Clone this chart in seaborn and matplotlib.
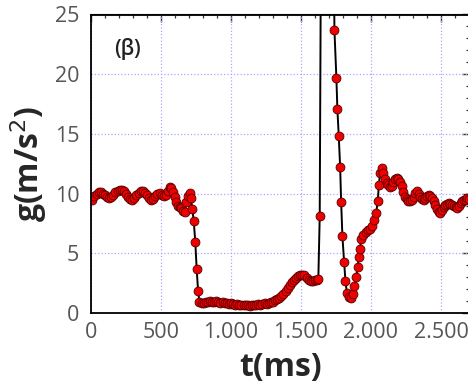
import matplotlib
matplotlib.use("Agg")
import matplotlib.pyplot as plt
import seaborn as sns
from matplotlib.ticker import MultipleLocator, FuncFormatter

# data (t in ms, g in m/s^2)
t_ms = [10, 25, 40, 55, 70, 85, 100, 115, 130, 145, 160, 175, 190, 205, 220, 235,
        250, 265, 280, 295, 310, 325, 340, 355, 370, 385, 400, 415, 430, 445, 460,
        475, 490, 505, 520, 535, 550, 562, 574, 586, 598, 610, 622, 634, 646, 658,
        670, 682, 694, 704, 714, 724, 734, 745, 755, 765, 775,
        790, 805, 820, 835, 850, 865, 880, 895, 910, 925, 940, 955, 970, 985, 1000,
        1015, 1030, 1045, 1060, 1075, 1090, 1105, 1120, 1135, 1150, 1165, 1180,
        1195, 1210, 1225, 1240, 1255, 1270, 1285, 1300, 1315, 1330, 1345, 1360,
        1375, 1390, 1405, 1420, 1435, 1450, 1465, 1480, 1495, 1510, 1525, 1540,
        1555, 1570, 1585, 1600, 1612, 1624, 1634, 1648, 1728,
        1739, 1753, 1760, 1770, 1780, 1787, 1796, 1808, 1818, 1828, 1842, 1857,
        1870, 1882, 1894, 1906, 1913, 1922, 1930, 1946, 1962, 1978, 1994, 2010,
        2025, 2037, 2049, 2056, 2066, 2077, 2089, 2100, 2112, 2124, 2136, 2148,
        2160, 2172, 2184, 2196, 2208, 2220, 2232, 2244, 2256, 2268, 2280, 2292,
        2304, 2316, 2328, 2340, 2352, 2364, 2376, 2388, 2400, 2412, 2424, 2436,
        2448, 2460, 2472, 2484, 2496, 2508, 2520, 2532, 2544, 2556, 2568, 2580,
        2592, 2604, 2616, 2628, 2640, 2652, 2664, 2676, 2688, 2700]
g_ms2 = [9.5, 9.8, 10.0, 10.1, 10.1, 10.0, 9.9, 9.75, 9.65, 9.7, 9.9, 10.1, 10.25,
         10.3, 10.3, 10.25, 10.0, 9.75, 9.55, 9.5, 9.6, 9.85, 10.05, 10.2, 10.2,
         10.05, 9.85, 9.65, 9.5, 9.55, 9.8, 10.0, 10.05, 9.85, 9.8, 9.9, 10.2,
         10.55, 10.45, 10.15, 9.7, 9.3, 9.0, 8.85, 8.8, 8.55, 8.5, 9.3, 9.8, 10.05,
         9.6, 8.7, 7.7, 5.95, 3.67, 1.85, 0.9,
         0.85, 0.8, 0.9, 0.95, 1.0, 0.95, 0.9, 1.0, 0.95, 0.85, 0.9, 0.85, 0.8,
         0.78, 0.8, 0.75, 0.7, 0.72, 0.7, 0.68, 0.65, 0.68, 0.65, 0.62, 0.68, 0.7,
         0.66, 0.72, 0.7, 0.75, 0.8, 0.78, 0.85, 0.9, 0.95, 1.05, 1.15, 1.25, 1.4,
         1.6, 1.85, 2.1, 2.35, 2.6, 2.8, 2.95, 3.1, 3.2, 3.22, 3.15, 2.95, 2.75,
         2.65, 2.7, 2.8, 2.8, 2.85, 8.1, 45.0, 40.0,
         23.7, 19.7, 17.1, 14.8, 12.2, 9.3, 6.45, 4.3, 2.66, 1.7, 1.34, 1.26, 1.6,
         2.3, 3.03, 3.87, 4.66, 5.4, 6.2, 6.55, 6.8, 6.95, 7.05, 7.25, 7.8, 8.4,
         9.35, 10.75, 11.7, 12.15, 11.7, 11.2, 10.85, 10.7, 10.55, 10.6, 11.0,
         11.2, 11.3, 11.2, 11.0, 10.6, 10.1, 9.75, 9.55, 9.4, 9.35, 9.5, 9.75,
         10.05, 10.2, 9.95, 9.75, 9.55, 9.5, 9.65, 9.8, 9.85, 9.8, 9.6, 9.35, 9.05,
         8.75, 8.45, 8.4, 8.6, 8.85, 9.05, 9.15, 9.2, 9.15, 9.05, 8.95, 8.85, 8.8,
         8.95, 9.2, 9.35, 9.45, 9.5, 9.6, 9.55]

x_ticks = [0, 500, 1000, 1500, 2000, 2500]
y_ticks = [0, 5, 10, 15, 20, 25]

sns.set_style("white")
plt.rcParams['font.family'] = ['Open Sans', 'DejaVu Sans']

fig = plt.figure(figsize=(4.68, 3.83), dpi=100)
ax = fig.add_axes([91 / 468, 70 / 383, 378.5 / 468, 298.5 / 383])

sns.lineplot(x=t_ms, y=g_ms2, sort=False, ax=ax, color='black', lw=1.4,
             marker='o', ms=6.4, mfc='#ee0000', mec='#550000', mew=0.6)

ax.set_xlim(0, 2704)
ax.set_ylim(0, 25)
ax.set_xticks(x_ticks)
ax.set_yticks(y_ticks)
ax.xaxis.set_minor_locator(MultipleLocator(100))
ax.yaxis.set_minor_locator(MultipleLocator(1))
ax.xaxis.set_major_formatter(FuncFormatter(lambda v, p: f"{int(v):,}".replace(",", ".")))

ax.grid(True, which='major', color='#a8a8ff', linestyle=':', linewidth=0.9)
ax.set_axisbelow(True)

for s in ax.spines.values():
    s.set_color('black')
    s.set_linewidth(1.3)
ax.spines['right'].set_visible(False)

ax.tick_params(which='major', direction='out', length=5.5, width=1.0, color='#333333',
               labelsize=15.5, labelcolor='#555555', pad=1)
ax.tick_params(which='minor', direction='out', length=3, width=0.9, color='#333333')
ax.tick_params(axis='y', which='major', pad=3)

# inward ticks on top and right
top = ax.secondary_xaxis('top')
top.set_xticks(x_ticks)
top.xaxis.set_minor_locator(MultipleLocator(100))
top.tick_params(which='major', direction='in', length=5.5, width=1.0, color='#333333', labeltop=False)
top.tick_params(which='minor', direction='in', length=3, width=0.9, color='#333333')
right = ax.secondary_yaxis('right')
right.set_yticks(y_ticks)
right.yaxis.set_minor_locator(MultipleLocator(1))
right.tick_params(which='major', direction='in', length=5.5, width=1.0, color='#333333', labelright=False)
right.tick_params(which='minor', direction='in', length=3, width=0.9, color='#333333')

ax.set_xlabel('t(ms)', fontsize=23, fontweight='bold', labelpad=6)
ax.set_ylabel('g(m/s$^2$)', fontsize=23, fontweight='bold', labelpad=4)

ax.text(0.097, 0.885, '(β)', transform=ax.transAxes, fontsize=15, fontweight='semibold',
        color='#222222', ha='center', va='center')

fig.savefig('out.png', dpi=100)
